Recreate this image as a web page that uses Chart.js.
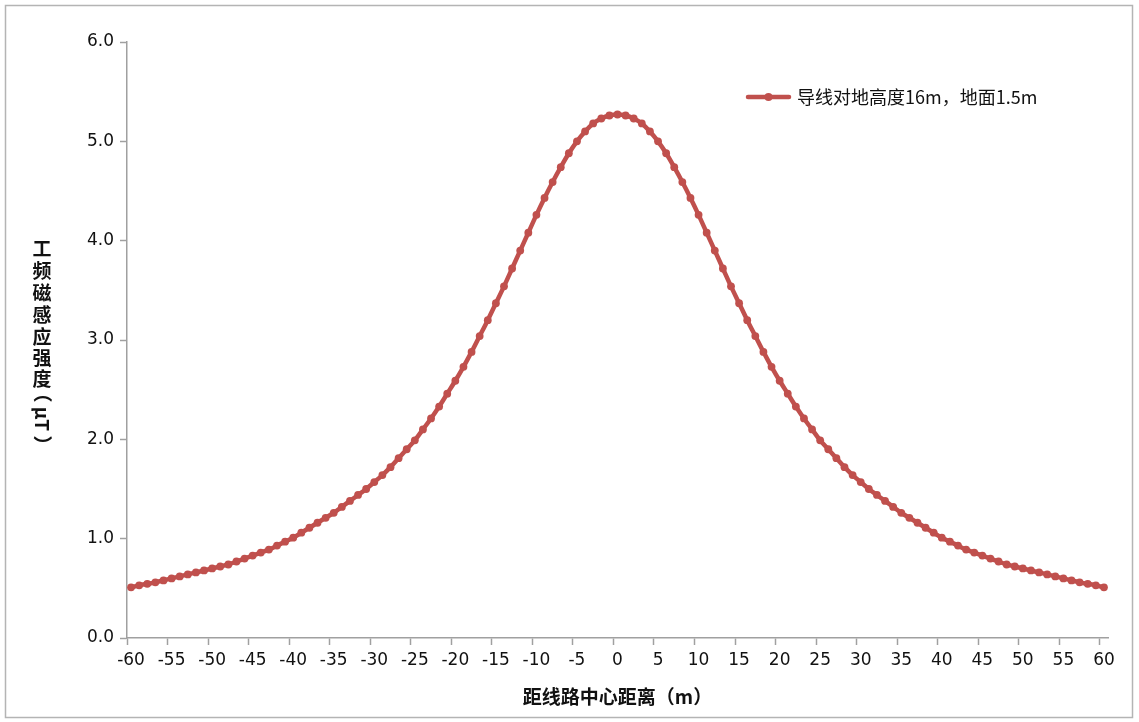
<!DOCTYPE html>
<html>
<head>
<meta charset="utf-8">
<script src="https://cdn.jsdelivr.net/npm/chart.js@4.4.1/dist/chart.umd.min.js"></script>
<style>
  body { margin: 0; background: #fff; }
  canvas { display: block; }
</style>
</head>
<body>
<canvas id="field-chart" width="1139" height="722"></canvas>
<script>
// distance from line centre (m)
var distances = [-60, -59, -58, -57, -56, -55, -54, -53, -52, -51,
  -50, -49, -48, -47, -46, -45, -44, -43, -42, -41,
  -40, -39, -38, -37, -36, -35, -34, -33, -32, -31,
  -30, -29, -28, -27, -26, -25, -24, -23, -22, -21,
  -20, -19, -18, -17, -16, -15, -14, -13, -12, -11,
  -10, -9, -8, -7, -6, -5, -4, -3, -2, -1,
  0, 1, 2, 3, 4, 5, 6, 7, 8, 9,
  10, 11, 12, 13, 14, 15, 16, 17, 18, 19,
  20, 21, 22, 23, 24, 25, 26, 27, 28, 29,
  30, 31, 32, 33, 34, 35, 36, 37, 38, 39,
  40, 41, 42, 43, 44, 45, 46, 47, 48, 49,
  50, 51, 52, 53, 54, 55, 56, 57, 58, 59, 60];

// power-frequency magnetic induction (uT), conductor 16 m, measured at 1.5 m
var fieldValues = [0.51, 0.53, 0.545, 0.56, 0.58, 0.60, 0.62, 0.64, 0.66, 0.68,
  0.70, 0.72, 0.74, 0.77, 0.80, 0.83, 0.86, 0.89, 0.93, 0.97,
  1.01, 1.06, 1.11, 1.16, 1.21, 1.26, 1.32, 1.38, 1.44, 1.50,
  1.57, 1.64, 1.72, 1.81, 1.90, 1.99, 2.10, 2.21, 2.33, 2.46,
  2.59, 2.73, 2.88, 3.04, 3.20, 3.37, 3.54, 3.72, 3.90, 4.08,
  4.26, 4.43, 4.59, 4.74, 4.88, 5.00, 5.10, 5.18, 5.23, 5.26,
  5.27, 5.26, 5.23, 5.18, 5.10, 5.00, 4.88, 4.74, 4.59, 4.43,
  4.26, 4.08, 3.90, 3.72, 3.54, 3.37, 3.20, 3.04, 2.88, 2.73,
  2.59, 2.46, 2.33, 2.21, 2.10, 1.99, 1.90, 1.81, 1.72, 1.64,
  1.57, 1.50, 1.44, 1.38, 1.32, 1.26, 1.21, 1.16, 1.11, 1.06,
  1.01, 0.97, 0.93, 0.89, 0.86, 0.83, 0.80, 0.77, 0.74, 0.72,
  0.70, 0.68, 0.66, 0.64, 0.62, 0.60, 0.58, 0.56, 0.545, 0.53, 0.51];

var seriesName = '导线对地高度16m，地面1.5m';
var xTitle = '距线路中心距离（m）';
var yTitleParts = ['工', '频', '磁', '感', '应', '强', '度', '（', 'μT', '）'];
var yTitleRows = [249, 271, 293, 315, 337, 358, 379, 393, 419, 445];

var lineColor = '#c0504d';
var axisColor = '#a0a0a0';
var tickFont = { family: '"DejaVu Sans", Verdana, sans-serif', size: 17 };

// white background + outer frame
var framePlugin = {
  id: 'frame',
  beforeDraw: function(chart) {
    var c = chart.ctx;
    c.save();
    c.fillStyle = '#fff';
    c.fillRect(0, 0, chart.width, chart.height);
    c.strokeStyle = '#b4b4b4';
    c.lineWidth = 1.5;
    c.strokeRect(5.5, 5.5, 1127, 712);
    c.restore();
  }
};

// stacked vertical y title and the legend box
var textPlugin = {
  id: 'texts',
  afterDraw: function(chart) {
    var c = chart.ctx;
    c.save();
    c.fillStyle = '#111';
    c.font = 'bold 19px "Noto Sans CJK SC"';
    c.textAlign = 'center';
    c.textBaseline = 'middle';
    yTitleParts.forEach(function(ch, i) {
      var y = yTitleRows[i];
      if (i >= 7) {
        // brackets and unit turned sideways like Excel stacked text
        c.save();
        c.translate(42, y);
        c.rotate(Math.PI / 2);
        c.fillText(ch, 0, 0);
        c.restore();
      } else {
        c.fillText(ch, 42, y);
      }
    });

    // legend
    c.strokeStyle = lineColor;
    c.lineWidth = 4.5;
    c.lineCap = 'round';
    c.beginPath();
    c.moveTo(748, 97);
    c.lineTo(789, 97);
    c.stroke();
    c.fillStyle = lineColor;
    c.beginPath();
    c.arc(768.5, 97, 4, 0, Math.PI * 2);
    c.fill();
    c.fillStyle = '#111';
    c.font = '18px "Noto Sans CJK SC"';
    c.textAlign = 'left';
    c.fillText(seriesName, 797, 97);
    c.restore();
  }
};

var ctx = document.getElementById('field-chart');

var fieldChart = new Chart(ctx, {
  type: 'line',
  data: {
    labels: distances.map(String),
    datasets: [{
      label: seriesName,
      data: fieldValues,
      borderColor: lineColor,
      backgroundColor: lineColor,
      borderWidth: 4.5,
      pointRadius: 3.9,
      pointBorderWidth: 0,
      pointBackgroundColor: lineColor,
      tension: 0.3,
      fill: false
    }]
  },
  options: {
    responsive: false,
    animation: false,
    devicePixelRatio: 1,
    layout: { padding: { left: 60, right: 31, top: 42, bottom: 12 } },
    plugins: {
      legend: { display: false },
      tooltip: { enabled: false }
    },
    scales: {
      x: {
        type: 'category',
        offset: true,
        afterFit: function(s) { s.height = 72; },
        grid: {
          offset: true,
          drawOnChartArea: false,
          tickLength: 7,
          tickWidth: 1.5,
          tickColor: function(c) { return c.index % 5 === 0 ? axisColor : 'rgba(0,0,0,0)'; }
        },
        border: { color: axisColor, width: 1.5 },
        ticks: {
          autoSkip: false,
          maxRotation: 0,
          padding: 5,
          color: '#111',
          font: tickFont,
          callback: function(v, i) { return i % 5 === 0 ? distances[i] : ''; }
        },
        title: {
          display: true,
          text: xTitle,
          color: '#111',
          font: { family: '"Noto Sans CJK SC"', size: 19, weight: 'bold' },
          padding: { top: 0, bottom: 2 }
        }
      },
      y: {
        min: 0,
        max: 6,
        afterFit: function(s) { s.width = 67; },
        grid: {
          drawOnChartArea: false,
          tickLength: 7,
          tickWidth: 1.5,
          tickColor: axisColor
        },
        border: { color: axisColor, width: 1.5 },
        ticks: {
          stepSize: 1,
          padding: 6,
          color: '#111',
          font: tickFont,
          callback: function(v) { return v.toFixed(1); }
        }
      }
    }
  },
  plugins: [framePlugin, textPlugin]
});
</script>
</body>
</html>
